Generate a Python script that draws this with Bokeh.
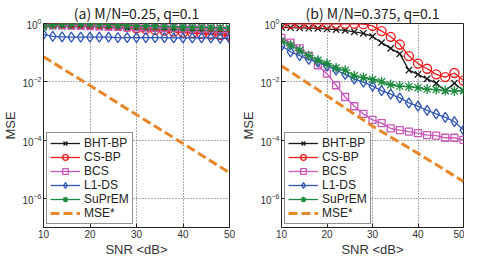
from bokeh.plotting import figure
from bokeh.layouts import row
from bokeh.models import Range1d, FixedTicker, LogTickFormatter, Legend, LegendItem
from bokeh.embed import file_html
from bokeh.resources import INLINE

# ---------------- data ----------------
snr = [10, 12, 14, 16, 18, 20, 22, 24, 26, 28, 30, 32, 34, 36, 38, 40, 42, 44, 46, 48, 50]
snr_mse = [10, 20, 30, 40, 50]

series_names = ["BHT-BP", "CS-BP", "BCS", "L1-DS", "SuPrEM"]
mse_name = "MSE*"

titles = ["(a) M/N=0.25, q=0.1", "(b) M/N=0.375, q=0.1"]
x_ticks = [10, 20, 30, 40, 50]
y_ticks = [1e-6, 1e-4, 1e-2, 1]

# panel (a)
a_bht = [0.83, 0.82, 0.81, 0.80, 0.79, 0.78, 0.76, 0.74, 0.72, 0.70, 0.68, 0.66, 0.65, 0.63, 0.62, 0.60, 0.59, 0.57, 0.56, 0.54, 0.53]
a_csbp = [1.0, 1.0, 1.0, 1.0, 0.99, 0.98, 0.95, 0.90, 0.85, 0.78, 0.68, 0.64, 0.60, 0.57, 0.53, 0.49, 0.47, 0.44, 0.42, 0.40, 0.38]
a_bcs = [0.90, 0.88, 0.87, 0.85, 0.84, 0.82, 0.80, 0.79, 0.77, 0.75, 0.74, 0.72, 0.71, 0.70, 0.69, 0.68, 0.67, 0.66, 0.65, 0.64, 0.62]
a_l1ds = [0.42, 0.36, 0.35, 0.34, 0.34, 0.34, 0.34, 0.34, 0.33, 0.33, 0.33, 0.33, 0.33, 0.33, 0.32, 0.32, 0.32, 0.32, 0.32, 0.31, 0.31]
a_suprem = [0.76, 0.90, 0.95, 0.97, 1.0, 1.0, 0.97, 0.93, 0.90, 0.87, 0.85, 0.83, 0.81, 0.80, 0.78, 0.76, 0.75, 0.74, 0.73, 0.72, 0.70]
a_mse = [0.072, 0.0074, 0.00074, 7.6e-5, 7.6e-6]

# panel (b)
b_bht = [0.74, 0.72, 0.71, 0.69, 0.68, 0.65, 0.62, 0.58, 0.52, 0.46, 0.36, 0.22, 0.14, 0.091, 0.025, 0.018, 0.0126, 0.0089, 0.0049, 0.0089, 0.0049]
b_csbp = [0.98, 0.98, 0.98, 0.98, 0.98, 0.98, 0.98, 0.97, 0.97, 0.95, 0.83, 0.55, 0.35, 0.19, 0.076, 0.042, 0.028, 0.018, 0.0145, 0.020, 0.011]
b_bcs = [0.32, 0.22, 0.14, 0.079, 0.037, 0.019, 0.0076, 0.0030, 0.00145, 0.00079, 0.00049, 0.00038, 0.00025, 0.00022, 0.000195, 0.000174, 0.000148, 0.000141, 0.00012, 0.00012, 0.000102]
b_l1ds = [0.17, 0.107, 0.079, 0.059, 0.047, 0.035, 0.025, 0.018, 0.0123, 0.0098, 0.0071, 0.0050, 0.0038, 0.0028, 0.0019, 0.00145, 0.00105, 0.00079, 0.0006, 0.00043, 0.00022]
b_suprem = [0.25, 0.18, 0.12, 0.079, 0.055, 0.042, 0.030, 0.025, 0.016, 0.014, 0.012, 0.010, 0.0079, 0.0071, 0.0068, 0.0063, 0.0056, 0.0054, 0.0050, 0.0048, 0.0050]
b_mse = [0.035, 0.0033, 0.0003, 3.5e-5, 3.8e-6]

# ---------------- style ----------------
colors = ["#1a1a1a", "#ee1c1c", "#c957b9", "#2f55b5", "#1b8a3d"]
markers = ["x", "circle", "square", "diamond", "asterisk"]
msizes = [9, 9, 7, 10, 10]
mse_color = "#e8872a"
TICK_FONT = "Liberation Sans"


def make_panel(title, series, mse, width, height, bl, br, bt, bb):
    p = figure(width=width, height=height, y_axis_type="log",
               x_range=Range1d(10, 50), y_range=Range1d(1e-7, 1),
               output_backend="svg", toolbar_location=None, title=title,
               min_border_left=bl, min_border_right=br,
               min_border_top=bt, min_border_bottom=bb)
    p.title.text_font = "Noto Sans CJK KR"
    p.title.text_font_size = "14px"
    p.title.text_font_style = "normal"
    p.title.align = "center"
    p.title.standoff = 1
    p.title.text_color = "#222222"

    p.xaxis.ticker = FixedTicker(ticks=x_ticks)
    p.yaxis.ticker = FixedTicker(ticks=y_ticks)
    p.yaxis.formatter = LogTickFormatter()
    for ax in (p.xaxis, p.yaxis):
        ax.major_label_text_font = TICK_FONT
        ax.major_label_text_font_size = "10px"
        ax.major_label_text_color = "#333333"
        ax.major_tick_in = 4
        ax.major_tick_out = 0
        ax.minor_tick_in = 0
        ax.minor_tick_out = 0
        ax.axis_line_color = "#222222"
        ax.major_tick_line_color = "#222222"
        ax.axis_label_text_font = TICK_FONT
        ax.axis_label_text_font_size = "13px"
        ax.axis_label_text_font_style = "normal"
        ax.axis_label_text_color = "#333333"
        ax.major_label_standoff = 2
        ax.axis_label_standoff = 1
    p.xaxis.axis_label = "SNR <dB>"
    p.yaxis.axis_label = "MSE"

    for g in (p.xgrid, p.ygrid):
        g.grid_line_color = "#333333"
        g.grid_line_dash = "1 2"
        g.grid_line_alpha = 0.8
    p.xgrid.ticker = FixedTicker(ticks=x_ticks)
    p.ygrid.ticker = FixedTicker(ticks=y_ticks)
    p.outline_line_color = "#222222"
    p.outline_line_alpha = 1.0
    p.background_fill_color = "white"
    p.border_fill_color = "white"

    items = []
    for name, ys, c, m, s in zip(series_names, series, colors, markers, msizes):
        r1 = p.line(snr, ys, line_color=c, line_width=1.3)
        r2 = p.scatter(snr, ys, marker=m, size=s, line_color=c, fill_color=None, line_width=1.3)
        items.append(LegendItem(label=name, renderers=[r1, r2]))
    r = p.line(snr_mse, mse, line_color=mse_color, line_width=3, line_dash="9 4")
    items.append(LegendItem(label=mse_name, renderers=[r]))

    leg = Legend(items=items, location="bottom_left", margin=3, padding=3,
                 spacing=0, glyph_width=30, glyph_height=14, label_height=14,
                 label_standoff=4, label_text_font=TICK_FONT,
                 label_text_font_size="12px", label_text_color="#222222",
                 border_line_color="#222222", border_line_width=1,
                 background_fill_alpha=1.0)
    p.add_layout(leg, "center")
    return p


pa = make_panel(titles[0], [a_bht, a_csbp, a_bcs, a_l1ds, a_suprem], a_mse,
                238, 264, 40, 9, 23, 37)
pb = make_panel(titles[1], [b_bht, b_csbp, b_bcs, b_l1ds, b_suprem], b_mse,
                226, 264, 41, 1, 23, 29)

layout = row(pa, pb, spacing=0)
open("out.html", "w").write(file_html(layout, INLINE))
